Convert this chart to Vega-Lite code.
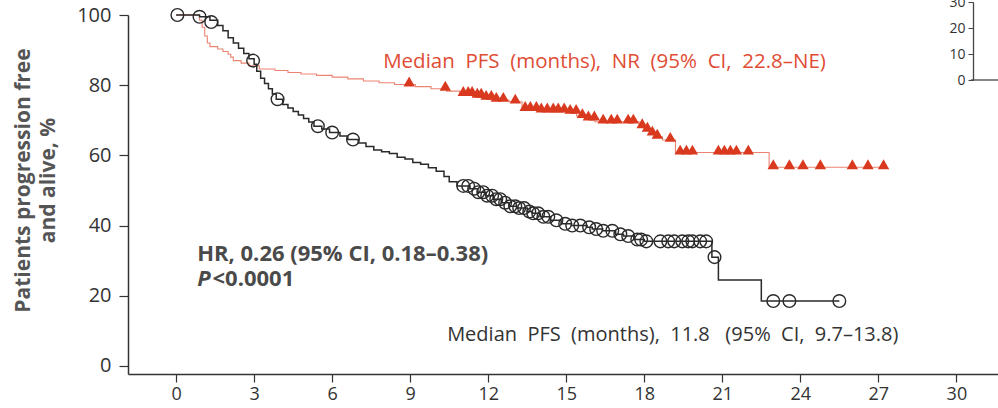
{
  "$schema": "https://vega.github.io/schema/vega-lite/v6.json",
  "width": 870,
  "height": 359,
  "autosize": {"type": "none"},
  "padding": {"left": 128, "top": 15, "right": 0, "bottom": 34},
  "background": "white",
  "config": {"view": {"stroke": null}, "font": "Open Sans", "axis": {"grid": false}},
  "datasets": {
    "black": [
      {"t": 0, "s": 100}, {"t": 0.9, "s": 99.5}, {"t": 1.3, "s": 98.5}, {"t": 1.6, "s": 97}, {"t": 1.8, "s": 95.5},
      {"t": 2.0, "s": 93.5}, {"t": 2.2, "s": 92}, {"t": 2.4, "s": 90.5}, {"t": 2.6, "s": 89}, {"t": 2.8, "s": 87.5},
      {"t": 3.0, "s": 86}, {"t": 3.1, "s": 84}, {"t": 3.25, "s": 82}, {"t": 3.4, "s": 80.5}, {"t": 3.55, "s": 79},
      {"t": 3.7, "s": 77.5}, {"t": 3.85, "s": 76}, {"t": 4.1, "s": 74.5}, {"t": 4.3, "s": 73.5}, {"t": 4.5, "s": 72.5},
      {"t": 4.7, "s": 71.5}, {"t": 4.9, "s": 70.5}, {"t": 5.1, "s": 69.5}, {"t": 5.3, "s": 68.3}, {"t": 5.6, "s": 67.5},
      {"t": 5.9, "s": 66.5}, {"t": 6.3, "s": 65.5}, {"t": 6.6, "s": 64.5}, {"t": 7.0, "s": 63.5}, {"t": 7.3, "s": 62.5},
      {"t": 7.6, "s": 61.5}, {"t": 7.9, "s": 61}, {"t": 8.2, "s": 60.5}, {"t": 8.5, "s": 59.5}, {"t": 8.8, "s": 59},
      {"t": 9.1, "s": 58}, {"t": 9.4, "s": 57.5}, {"t": 9.7, "s": 56.5}, {"t": 10.0, "s": 55.5}, {"t": 10.3, "s": 54},
      {"t": 10.5, "s": 52.5}, {"t": 10.8, "s": 51.3}, {"t": 11.3, "s": 50.5}, {"t": 11.6, "s": 49.5}, {"t": 11.9, "s": 48.5},
      {"t": 12.2, "s": 47.5}, {"t": 12.5, "s": 46.5}, {"t": 12.8, "s": 45.5}, {"t": 13.1, "s": 45}, {"t": 13.5, "s": 44},
      {"t": 13.7, "s": 43.5}, {"t": 14.0, "s": 42.5}, {"t": 14.4, "s": 41.5}, {"t": 14.8, "s": 40.5}, {"t": 15.2, "s": 40},
      {"t": 15.8, "s": 39.5}, {"t": 16.0, "s": 39}, {"t": 16.4, "s": 38.5}, {"t": 16.9, "s": 37.5}, {"t": 17.2, "s": 37},
      {"t": 17.6, "s": 36}, {"t": 18.0, "s": 35.5}, {"t": 20.6, "s": 31}, {"t": 20.85, "s": 24.5}, {"t": 22.5, "s": 18.5},
      {"t": 25.5, "s": 18.5}
    ],
    "blackCens": [
      {"t": 0.05, "s": 100}, {"t": 0.9, "s": 99.5}, {"t": 1.35, "s": 98}, {"t": 2.96, "s": 87}, {"t": 3.9, "s": 76},
      {"t": 5.45, "s": 68.3}, {"t": 6.0, "s": 66.5}, {"t": 6.8, "s": 64.5},
      {"t": 11.04, "s": 51.3}, {"t": 11.23, "s": 51.3}, {"t": 11.46, "s": 50.5}, {"t": 11.62, "s": 49.5}, {"t": 11.81, "s": 49.5},
      {"t": 11.96, "s": 48.5}, {"t": 12.15, "s": 48.5}, {"t": 12.31, "s": 47.5}, {"t": 12.46, "s": 47.5}, {"t": 12.65, "s": 46.5},
      {"t": 12.85, "s": 45.5}, {"t": 13.04, "s": 45.5}, {"t": 13.19, "s": 45}, {"t": 13.38, "s": 45}, {"t": 13.58, "s": 44},
      {"t": 13.73, "s": 43.5}, {"t": 13.92, "s": 43.5}, {"t": 14.12, "s": 42.5}, {"t": 14.31, "s": 42.5}, {"t": 14.62, "s": 41.5},
      {"t": 14.96, "s": 40.5}, {"t": 15.23, "s": 40}, {"t": 15.54, "s": 40}, {"t": 15.88, "s": 39.5}, {"t": 16.15, "s": 39},
      {"t": 16.42, "s": 38.5}, {"t": 16.77, "s": 38.5}, {"t": 17.08, "s": 37.5}, {"t": 17.38, "s": 37}, {"t": 17.73, "s": 36},
      {"t": 17.88, "s": 36}, {"t": 18.08, "s": 35.5}, {"t": 18.62, "s": 35.5}, {"t": 18.92, "s": 35.5}, {"t": 19.15, "s": 35.5},
      {"t": 19.46, "s": 35.5}, {"t": 19.69, "s": 35.5}, {"t": 19.85, "s": 35.5}, {"t": 20.15, "s": 35.5}, {"t": 20.38, "s": 35.5},
      {"t": 20.7, "s": 31}, {"t": 22.96, "s": 18.5}, {"t": 23.58, "s": 18.5}, {"t": 25.5, "s": 18.5}
    ],
    "red": [
      {"t": 0, "s": 100}, {"t": 0.9, "s": 98.5}, {"t": 1.0, "s": 96.5}, {"t": 1.1, "s": 94}, {"t": 1.2, "s": 92},
      {"t": 1.3, "s": 91}, {"t": 1.6, "s": 90.3}, {"t": 1.8, "s": 89.6}, {"t": 2.0, "s": 88.8}, {"t": 2.1, "s": 88},
      {"t": 2.2, "s": 87}, {"t": 2.5, "s": 86.3}, {"t": 2.8, "s": 85.5}, {"t": 3.2, "s": 84.6}, {"t": 3.8, "s": 84.2},
      {"t": 4.3, "s": 83.6}, {"t": 4.8, "s": 83.2}, {"t": 5.4, "s": 82.8}, {"t": 6.0, "s": 82.3}, {"t": 6.6, "s": 81.8},
      {"t": 7.2, "s": 81.2}, {"t": 7.8, "s": 80.7}, {"t": 8.4, "s": 80.2}, {"t": 9.2, "s": 79.6}, {"t": 9.8, "s": 79.0},
      {"t": 10.4, "s": 78.3}, {"t": 10.9, "s": 77.5}, {"t": 11.4, "s": 77.0}, {"t": 11.9, "s": 76.4}, {"t": 12.3, "s": 75.8},
      {"t": 12.8, "s": 75.3}, {"t": 13.3, "s": 73.2}, {"t": 14.0, "s": 72.8}, {"t": 15.0, "s": 72.4}, {"t": 15.4, "s": 71.2},
      {"t": 15.8, "s": 70.5}, {"t": 16.1, "s": 69.6}, {"t": 17.8, "s": 68.3}, {"t": 18.0, "s": 67.3}, {"t": 18.2, "s": 66.2},
      {"t": 18.4, "s": 65.3}, {"t": 18.7, "s": 64.4}, {"t": 19.2, "s": 60.8}, {"t": 22.8, "s": 56.6}, {"t": 27.2, "s": 56.6}
    ],
    "redCens": [
      {"t": 8.96, "s": 80.2}, {"t": 10.35, "s": 79.0}, {"t": 11.04, "s": 77.5}, {"t": 11.23, "s": 77.5}, {"t": 11.38, "s": 77.5},
      {"t": 11.58, "s": 77.0}, {"t": 11.73, "s": 77.0}, {"t": 11.92, "s": 76.4}, {"t": 12.12, "s": 76.4}, {"t": 12.31, "s": 75.8},
      {"t": 12.58, "s": 75.8}, {"t": 13.04, "s": 75.3}, {"t": 13.42, "s": 73.2}, {"t": 13.62, "s": 73.2}, {"t": 13.85, "s": 73.2},
      {"t": 14.04, "s": 72.8}, {"t": 14.27, "s": 72.8}, {"t": 14.5, "s": 72.8}, {"t": 14.69, "s": 72.8}, {"t": 14.92, "s": 72.8},
      {"t": 15.15, "s": 72.4}, {"t": 15.38, "s": 72.4}, {"t": 15.62, "s": 71.2}, {"t": 15.85, "s": 70.5}, {"t": 16.08, "s": 70.5},
      {"t": 16.42, "s": 69.6}, {"t": 16.73, "s": 69.6}, {"t": 16.96, "s": 69.6}, {"t": 17.38, "s": 69.6}, {"t": 17.58, "s": 69.6},
      {"t": 17.92, "s": 68.3}, {"t": 18.12, "s": 67.3}, {"t": 18.31, "s": 66.2}, {"t": 18.5, "s": 65.3}, {"t": 19.0, "s": 64.4},
      {"t": 19.38, "s": 60.8}, {"t": 19.62, "s": 60.8}, {"t": 19.85, "s": 60.8}, {"t": 20.85, "s": 60.8}, {"t": 21.08, "s": 60.8},
      {"t": 21.31, "s": 60.8}, {"t": 21.54, "s": 60.8}, {"t": 22.0, "s": 60.8}, {"t": 22.96, "s": 56.6}, {"t": 23.58, "s": 56.6},
      {"t": 24.1, "s": 56.6}, {"t": 24.77, "s": 56.6}, {"t": 26.0, "s": 56.6}, {"t": 26.6, "s": 56.6}, {"t": 27.2, "s": 56.6}
    ]
  },
  "layer": [
    {
      "layer": [
        {
          "data": {"name": "red"},
          "mark": {"type": "line", "interpolate": "step-after", "color": "#ec8472", "strokeWidth": 1.1},
          "encoding": {
            "x": {"field": "t", "type": "quantitative",
              "scale": {"domain": [-1.85, 31.6], "nice": false, "zero": false},
              "axis": {"values": [0, 3, 6, 9, 12, 15, 18, 21, 24, 27, 30], "title": null, "labelFontSize": 18,
                "labelColor": "#333", "tickSize": 8, "tickColor": "#333", "tickWidth": 1.2, "domainColor": "#333",
                "domainWidth": 1.5, "labelPadding": 3, "labelFlush": false}},
            "y": {"field": "s", "type": "quantitative",
              "scale": {"domain": [-2.3, 100], "nice": false, "zero": false},
              "axis": {"values": [0, 20, 40, 60, 80, 100], "title": ["Patients progression free", "and alive, %"],
                "labelFontSize": 20, "labelColor": "#333", "tickSize": 9, "tickColor": "#333", "tickWidth": 1.2,
                "domainColor": "#333", "domainWidth": 1.5, "labelPadding": 8, "labelFlush": false,
                "titleFontSize": 21, "titleFontWeight": "bold", "titleColor": "#555", "titleX": -105, "titleY": 165,
                "titleAngle": -90, "titleAlign": "center", "titleBaseline": "middle", "titleLineHeight": 25}}
          }
        },
        {
          "data": {"name": "black"},
          "mark": {"type": "line", "interpolate": "step-after", "color": "#2a2a2a", "strokeWidth": 1.5},
          "encoding": {
            "x": {"field": "t", "type": "quantitative"},
            "y": {"field": "s", "type": "quantitative"}
          }
        },
        {
          "data": {"name": "blackCens"},
          "mark": {"type": "point", "shape": "circle", "filled": false, "size": 160, "stroke": "#2a2a2a", "strokeWidth": 1.4, "opacity": 1},
          "encoding": {
            "x": {"field": "t", "type": "quantitative"},
            "y": {"field": "s", "type": "quantitative"}
          }
        },
        {
          "data": {"name": "redCens"},
          "mark": {"type": "point", "shape": "triangle-up", "filled": true, "size": 130, "color": "#d9391e", "opacity": 1, "yOffset": -3},
          "encoding": {
            "x": {"field": "t", "type": "quantitative"},
            "y": {"field": "s", "type": "quantitative"}
          }
        },
        {
          "data": {"values": [{"t": 7.96, "s": 86.6, "label": "Median\u00a0 PFS\u00a0 (months),\u00a0 NR\u00a0 (95%\u00a0 CI,\u00a0 22.8–NE)"}]},
          "mark": {"type": "text", "align": "left", "baseline": "middle", "fontSize": 20.5, "color": "#e04c34"},
          "encoding": {
            "x": {"field": "t", "type": "quantitative"},
            "y": {"field": "s", "type": "quantitative"},
            "text": {"field": "label"}
          }
        },
        {
          "data": {"values": [{"t": 10.42, "s": 8.8, "label": "Median\u00a0 PFS\u00a0 (months),\u00a0 11.8\u00a0\u00a0 (95%\u00a0 CI,\u00a0 9.7–13.8)"}]},
          "mark": {"type": "text", "align": "left", "baseline": "middle", "fontSize": 20, "color": "#333"},
          "encoding": {
            "x": {"field": "t", "type": "quantitative"},
            "y": {"field": "s", "type": "quantitative"},
            "text": {"field": "label"}
          }
        },
        {
          "data": {"values": [{"t": 0.81, "s": 31.9, "label": "HR, 0.26 (95% CI, 0.18–0.38)"}, {"t": 1.4, "s": 24.8, "label": "<0.0001"}]},
          "mark": {"type": "text", "align": "left", "baseline": "middle", "fontSize": 22, "fontWeight": "bold", "color": "#4a4a4a"},
          "encoding": {
            "x": {"field": "t", "type": "quantitative"},
            "y": {"field": "s", "type": "quantitative"},
            "text": {"field": "label"}
          }
        },
        {
          "data": {"values": [{"t": 0.81, "s": 24.8, "label": "P"}]},
          "mark": {"type": "text", "align": "left", "baseline": "middle", "fontSize": 22, "fontWeight": "bold", "fontStyle": "italic", "color": "#4a4a4a"},
          "encoding": {
            "x": {"field": "t", "type": "quantitative"},
            "y": {"field": "s", "type": "quantitative"},
            "text": {"field": "label"}
          }
        }
      ]
    },
    {
      "data": {"values": [{"t0": 30.55, "t1": 31.6, "v": 0}]},
      "mark": {"type": "rule", "color": "#444", "strokeWidth": 1.3},
      "encoding": {
        "x": {"field": "t0", "type": "quantitative"},
        "x2": {"field": "t1"},
        "y": {"field": "v", "type": "quantitative",
          "scale": {"domain": [0, 30], "range": [65, -13], "nice": false, "zero": false},
          "axis": {"orient": "left", "offset": -845, "values": [0, 10, 20, 30], "title": null, "labelFontSize": 14,
            "labelColor": "#333", "tickSize": 5, "tickColor": "#444", "domainColor": "#444", "domainWidth": 1.3,
            "labelPadding": 3, "labelFlush": false}}
      }
    }
  ],
  "resolve": {"scale": {"y": "independent"}, "axis": {"y": "independent"}}
}
